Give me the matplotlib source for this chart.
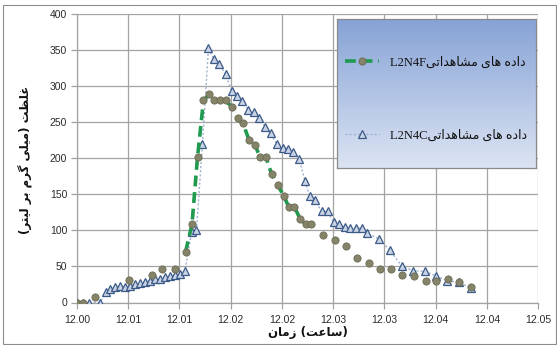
import numpy as np
import matplotlib
matplotlib.use("Agg")
import matplotlib.pyplot as plt
from matplotlib.patches import Rectangle

# ---------------- data ----------------
c_x = [12.00000, 12.00065, 12.00125, 12.00249, 12.00315, 12.00358, 12.00412, 12.00466,
       12.00521, 12.00575, 12.00629, 12.00683, 12.00738, 12.00792, 12.00846, 12.00900,
       12.00954, 12.01009, 12.01063, 12.01117, 12.01171, 12.01242, 12.01296, 12.01361,
       12.01426, 12.01481, 12.01540, 12.01611, 12.01676, 12.01730, 12.01795, 12.01860,
       12.01920, 12.01979, 12.02039, 12.02099, 12.02164, 12.02229, 12.02289, 12.02348,
       12.02408, 12.02473, 12.02522, 12.02581, 12.02652, 12.02717, 12.02782, 12.02847,
       12.02907, 12.02961, 12.03026, 12.03086, 12.03145, 12.03276, 12.03395, 12.03520,
       12.03644, 12.03774, 12.03894, 12.04018, 12.04138, 12.04273]
c_y = [0, 0, 0, 0, 15, 18, 21, 23, 21, 23, 25, 27, 29, 30, 32, 32, 35, 36, 38, 40, 43,
       97, 101, 220, 352, 337, 330, 316, 293, 286, 279, 266, 263, 256, 243, 234,
       220, 214, 213, 208, 199, 168, 148, 142, 126, 126, 111, 108, 104, 103, 103, 103, 96,
       88, 72, 51, 44, 43, 37, 30, 28, 20]

f_x = [12.00000, 12.00065, 12.00195, 12.00569, 12.00813, 12.00927, 12.01063, 12.01177,
       12.01247, 12.01307, 12.01372, 12.01437, 12.01486, 12.01546, 12.01611, 12.01676,
       12.01741, 12.01800, 12.01866, 12.01931, 12.01985, 12.02050, 12.02110, 12.02175,
       12.02240, 12.02299, 12.02359, 12.02419, 12.02484, 12.02538, 12.02668, 12.02798,
       12.02918, 12.03042, 12.03162, 12.03281, 12.03406, 12.03530, 12.03655, 12.03780,
       12.03899, 12.04024, 12.04143, 12.04268]
f_y = [0, 0, 8, 31, 38, 47, 47, 70, 108, 201, 280, 288, 280, 280, 280, 271, 255, 248,
       225, 218, 201, 201, 178, 163, 148, 132, 132, 116, 108, 108, 93, 86, 78, 61, 54,
       47, 47, 38, 37, 30, 30, 32, 28, 22]
f_line_start, f_line_end = 7, 30   # segment of series F drawn with the dashed line

x_ticks = list(np.linspace(12.0, 12.05, 10))
x_tick_labels = ['12.00', '12.01', '12.01', '12.02', '12.02', '12.03', '12.03',
                 '12.04', '12.04', '12.05']
y_ticks = [0, 50, 100, 150, 200, 250, 300, 350, 400]

series_f_name = "L2N4F"
series_c_name = "L2N4C"
legend_text = "داده های مشاهداتی"
x_label_words = ("زمان", "ساعت")
y_label_text = "غلظت (میلی گرم بر لیتر)"

# -------------- simple Persian shaping --------------
FORMS = {
    'ا': (0xFE8D, 0xFE8E, None, None), 'ب': (0xFE8F, 0xFE90, 0xFE91, 0xFE92),
    'ت': (0xFE95, 0xFE96, 0xFE97, 0xFE98), 'د': (0xFEA9, 0xFEAA, None, None),
    'ر': (0xFEAD, 0xFEAE, None, None), 'ز': (0xFEAF, 0xFEB0, None, None),
    'س': (0xFEB1, 0xFEB2, 0xFEB3, 0xFEB4), 'ش': (0xFEB5, 0xFEB6, 0xFEB7, 0xFEB8),
    'ظ': (0xFEC5, 0xFEC6, 0xFEC7, 0xFEC8), 'ع': (0xFEC9, 0xFECA, 0xFECB, 0xFECC),
    'غ': (0xFECD, 0xFECE, 0xFECF, 0xFED0), 'ل': (0xFEDD, 0xFEDE, 0xFEDF, 0xFEE0),
    'م': (0xFEE1, 0xFEE2, 0xFEE3, 0xFEE4), 'ن': (0xFEE5, 0xFEE6, 0xFEE7, 0xFEE8),
    'ه': (0xFEE9, 0xFEEA, 0xFEEB, 0xFEEC), 'ی': (0xFBFC, 0xFBFD, 0xFBFE, 0xFBFF),
    'گ': (0xFB92, 0xFB93, 0xFB94, 0xFB95),
}


def shape(s):
    out = []
    for i, ch in enumerate(s):
        f = FORMS.get(ch)
        if f is None:
            out.append(ch)
            continue
        prev = s[i - 1] if i > 0 else None
        nxt = s[i + 1] if i + 1 < len(s) else None
        jp = prev in FORMS and FORMS[prev][2] is not None
        jn = nxt in FORMS and f[2] is not None
        idx = {(False, False): 0, (True, False): 1, (False, True): 2, (True, True): 3}[(jp, jn)]
        out.append(chr(f[idx]))
    return ''.join(out)


def rtl(s):
    r = shape(s)[::-1]
    return r.translate(str.maketrans({'(': ')', ')': '('}))


# ---------------- figure ----------------
W, H = 557, 345
fig = plt.figure(figsize=(W / 100, H / 100), dpi=100)
fig.patch.set_facecolor('white')
fig.patches.append(Rectangle((2.5 / W, 1.5 / H), 553.5 / W, 339 / H, transform=fig.transFigure,
                             fill=False, edgecolor='#8c8c8c', linewidth=0.8))

ax = fig.add_axes([77 / W, 1 - 302.5 / H, 461 / W, 289 / H])
ax.set_xlim(12.0, 12.05)
ax.set_ylim(0, 400)

gcol = '#a3a3a3'
ax.set_xticks(x_ticks)
ax.set_xticklabels(x_tick_labels)
ax.set_yticks(y_ticks)
ax.grid(True, color=gcol, linewidth=0.9)
ax.set_axisbelow(True)
for sp in ['top', 'right']:
    ax.spines[sp].set_visible(False)
for sp in ['left', 'bottom']:
    ax.spines[sp].set_color(gcol)
    ax.spines[sp].set_linewidth(0.9)
ax.tick_params(axis='both', colors=gcol, length=4, width=0.9, labelcolor='#2b2b2b',
               labelsize=7.5)
ax.tick_params(axis='x', pad=5)
ax.tick_params(axis='y', pad=3)
for lab in ax.get_xticklabels() + ax.get_yticklabels():
    lab.set_family('Liberation Sans')

# series C: dotted thin line + triangles
lc, = ax.plot(c_x, c_y, linestyle=(0, (1.5, 1.5)), color='#9fb1cf', linewidth=1.0,
              marker='^', markersize=5.5, markerfacecolor='#c9d3e4',
              markeredgecolor='#3b5a88', markeredgewidth=0.9, zorder=3)
# series F: green dashed line (middle part) + circles
ax.plot(f_x[f_line_start:f_line_end], f_y[f_line_start:f_line_end],
        linestyle=(0, (3, 1.6)), color='#1f9a4e', linewidth=2.6, zorder=4)
ax.plot(f_x, f_y, linestyle='none', marker='o', markersize=5.2,
        markerfacecolor='#858469', markeredgecolor='#6c6b55', markeredgewidth=0.6, zorder=5)
lf = matplotlib.lines.Line2D([], [], linestyle=(0, (3, 1.6)), color='#1f9a4e', linewidth=2.6,
                             marker='o', markersize=5.2, markerfacecolor='#858469',
                             markeredgecolor='#6c6b55', markeredgewidth=0.6)

# axis labels
ax.set_xlabel(rtl(x_label_words[0]) + " (" + rtl(x_label_words[1]) + ")",
              family='DejaVu Sans', fontweight='bold', fontsize=8.5, color='#111111',
              labelpad=1)
fig.text(26 / W, 1 - 160 / H, rtl(y_label_text), rotation=90, ha='center', va='center',
         family='DejaVu Sans', fontweight='bold', fontsize=8.5, color='#111111')

# legend background with gradient
lax = fig.add_axes([337 / W, 1 - 168 / H, 199 / W, 149 / H])
top = np.array([0x86, 0xa3, 0xd6]) / 255
bot = np.array([0xdc, 0xe4, 0xf3]) / 255
t = np.linspace(0, 1, 256)[:, None]
grad = (top[None, :] * (1 - t) + bot[None, :] * t)[:, None, :]
lax.imshow(grad, aspect='auto', extent=[0, 1, 0, 1], origin='upper')
lax.set_xticks([])
lax.set_yticks([])
for sp in lax.spines.values():
    sp.set_color('#8a8a8a')
    sp.set_linewidth(0.9)

leg = lax.legend([lf, lc], [series_f_name + rtl(legend_text), series_c_name + rtl(legend_text)],
                 loc='center', bbox_to_anchor=(0.497, 0.463), frameon=False, borderpad=0,
                 labelspacing=4.9, handlelength=2.7, handletextpad=0.85,
                 prop={'family': ['Liberation Serif', 'DejaVu Sans'], 'size': 9})
for tx in leg.get_texts():
    tx.set_color('#111111')

fig.savefig('out.png', dpi=100, facecolor='white')
